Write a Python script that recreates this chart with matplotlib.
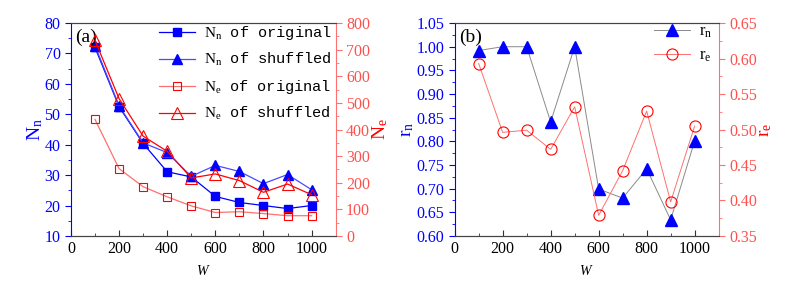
import numpy as np
import matplotlib
matplotlib.use("Agg")
import matplotlib.pyplot as plt
from matplotlib.ticker import MultipleLocator

plt.rcParams['font.family'] = ['Liberation Serif', 'DejaVu Serif']
plt.rcParams['mathtext.fontset'] = 'custom'
plt.rcParams['mathtext.rm'] = 'Liberation Serif'
plt.rcParams['mathtext.it'] = 'Liberation Serif:italic'

# data
W = [100, 200, 300, 400, 500, 600, 700, 800, 900, 1000]
Nn_orig = [72, 52.5, 40.4, 31.1, 29.4, 23, 21, 20, 19, 20]
Nn_shuf = [72.6, 52.8, 40.6, 37.4, 29.6, 33.2, 31.2, 27.2, 30.2, 25.2]
Ne_orig = [438, 253, 185, 147, 113, 88, 91, 84, 76, 76]
Ne_shuf = [735, 516, 375, 318, 218, 233, 208, 164, 195, 155]
r_n = [0.992, 1.0, 1.0, 0.841, 1.0, 0.699, 0.680, 0.742, 0.634, 0.801]
r_e = [0.593, 0.496, 0.499, 0.472, 0.532, 0.379, 0.442, 0.526, 0.398, 0.505]

BLUE = '#0000ff'
LBLUE = '#4a4aff'
RED = '#ff0000'
LRED = '#ff7070'
TICK_RED = '#ff5050'

fig = plt.figure(figsize=(7.88, 2.92), dpi=100)


def style_axes(ax, ax2, lcolor, rcolor):
    ax.spines['left'].set_color(lcolor)
    ax.spines['right'].set_visible(False)
    ax2.spines['right'].set_color(rcolor)
    ax2.spines['left'].set_visible(False)
    for a in (ax, ax2):
        a.spines['top'].set_color('#444444')
        a.spines['bottom'].set_color('#444444')
    ax.tick_params(axis='y', which='both', direction='out', colors=lcolor, labelsize=11.5)
    ax.tick_params(axis='y', which='major', length=4)
    ax.tick_params(axis='y', which='minor', length=2)
    ax2.tick_params(axis='y', which='both', direction='out', colors=rcolor,
                    labelcolor=TICK_RED, labelsize=11.5)
    ax2.tick_params(axis='y', which='major', length=4)
    ax2.tick_params(axis='y', which='minor', length=2)
    ax.tick_params(axis='x', which='both', direction='in', top=False, labelsize=11.5,
                   colors='#333333', labelcolor='black')
    ax.tick_params(axis='x', which='major', length=4)
    ax.tick_params(axis='x', which='minor', length=2)
    ax.set_xlim(0, 1100)
    ax.xaxis.set_major_locator(MultipleLocator(200))
    ax.xaxis.set_minor_locator(MultipleLocator(100))
    ax.set_xlabel('$\\mathit{W}$', fontsize=10, labelpad=5)


# panel (a)
ax1 = fig.add_axes([0.090, 0.192, 0.336, 0.729])
ax1b = ax1.twinx()
h1, = ax1.plot(W, Nn_orig, '-s', color=BLUE, lw=0.9, ms=5.5, mfc=BLUE, mec=BLUE)
h2, = ax1.plot(W, Nn_shuf, '-^', color=LBLUE, lw=0.9, ms=7, mfc=BLUE, mec=BLUE)
h3, = ax1b.plot(W, Ne_orig, '-s', color=LRED, lw=0.9, ms=6, mfc='none', mec=RED, mew=0.8)
h4, = ax1b.plot(W, Ne_shuf, '-^', color=RED, lw=0.9, ms=8, mfc='none', mec=RED, mew=0.8)
ax1.set_ylim(10, 80)
ax1.yaxis.set_major_locator(MultipleLocator(10))
ax1.yaxis.set_minor_locator(MultipleLocator(5))
ax1b.set_ylim(0, 800)
ax1b.yaxis.set_major_locator(MultipleLocator(100))
ax1b.yaxis.set_minor_locator(MultipleLocator(50))
style_axes(ax1, ax1b, BLUE, LRED)
ax1.set_ylabel('$\\mathrm{N_n}$', color=BLUE, fontsize=14, labelpad=0)
ax1b.set_ylabel('$\\mathrm{N_e}$', color=RED, fontsize=14, labelpad=0)
ax1.text(0.015, 0.975, '(a)', transform=ax1.transAxes, fontsize=14, va='top', ha='left')
leg = ax1.legend([h1, h2, h3, h4],
                 ['$\\mathrm{N_n}$ of original', '$\\mathrm{N_n}$ of shuffled',
                  '$\\mathrm{N_e}$ of original', '$\\mathrm{N_e}$ of shuffled'],
                 loc='upper right', bbox_to_anchor=(1.01, 1.025), frameon=False,
                 handlelength=2.4, handletextpad=0.6, labelspacing=0.62, borderaxespad=0,
                 prop={'family': ['Liberation Mono'], 'size': 11})

# panel (b)
ax2 = fig.add_axes([0.577, 0.192, 0.335, 0.729])
ax2b = ax2.twinx()
g1, = ax2.plot(W, r_n, '-^', color='#8a8a8a', lw=0.7, ms=8, mfc=BLUE, mec=BLUE)
g2, = ax2b.plot(W, r_e, '-o', color=LRED, lw=0.7, ms=8, mfc='none', mec=RED, mew=0.8)
ax2.set_ylim(0.60, 1.05)
ax2.yaxis.set_major_locator(MultipleLocator(0.05))
ax2.yaxis.set_minor_locator(MultipleLocator(0.025))
ax2b.set_ylim(0.35, 0.65)
ax2b.yaxis.set_major_locator(MultipleLocator(0.05))
ax2b.yaxis.set_minor_locator(MultipleLocator(0.025))
style_axes(ax2, ax2b, BLUE, LRED)
ax2.yaxis.set_major_formatter(lambda v, p: f'{v:.2f}')
ax2b.yaxis.set_major_formatter(lambda v, p: f'{v:.2f}')
ax2.set_ylabel('$\\mathrm{r_n}$', color=BLUE, fontsize=14, labelpad=0)
ax2b.set_ylabel('$\\mathrm{r_e}$', color=RED, fontsize=14, labelpad=0)
ax2.text(0.015, 0.975, '(b)', transform=ax2.transAxes, fontsize=14, va='top', ha='left')
ax2.legend([g1, g2], ['$\\mathrm{r_n}$', '$\\mathrm{r_e}$'], loc='upper right',
           bbox_to_anchor=(1.0, 1.03), frameon=False, handlelength=2.2,
           handletextpad=0.5, labelspacing=0.5, borderaxespad=0, prop={'size': 12})

fig.savefig('out.png', dpi=100)
